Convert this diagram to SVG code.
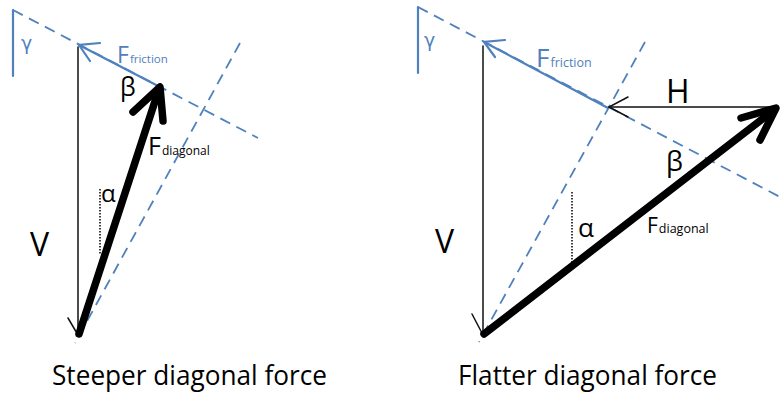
<svg xmlns="http://www.w3.org/2000/svg" width="781" height="394" viewBox="0 0 781 394">
<style>
text{font-family:"Open Sans","Liberation Sans",sans-serif}
.g{font-family:"DejaVu Sans",sans-serif}
.dash{stroke:#4f81bd;stroke-width:1.8;stroke-dasharray:11 7;fill:none}
.blue{stroke:#4f81bd;stroke-width:2.2;fill:none;stroke-linecap:round}
.thin{stroke:#111;stroke-width:1.5;fill:none;stroke-linecap:round}
.thick{stroke:#000;stroke-width:7.5;fill:none;stroke-linecap:round;stroke-linejoin:round}
.dot{stroke:#000;stroke-width:1.5;stroke-dasharray:1.5 1.5;fill:none}
.bt{fill:#4f81bd}
.k{fill:#000}
</style>
<rect width="781" height="394" fill="#fff"/>
<g id="connectors">
<line class="dash" x1="13" y1="10" x2="258" y2="138"/>
<line class="dash" x1="240" y1="43" x2="75" y2="343"/>
<line class="blue" x1="13" y1="10" x2="13" y2="76"/>
<line class="blue" x1="160" y1="87" x2="79" y2="45"/>
<polyline class="blue" points="100,43 79,45 90,61"/>
<line class="thin" x1="78" y1="47" x2="78" y2="334"/>
<polyline class="thin" points="68,318 78,335"/>
<line class="dot" x1="100" y1="189" x2="100" y2="255"/>
<line class="thick" x1="79" y1="334" x2="159" y2="89"/>
<polyline class="thick" points="133,112 160,87 163,121"/>
<line class="dash" x1="418" y1="7" x2="780" y2="197"/>
<line class="dash" x1="645" y1="42" x2="479" y2="342"/>
<line class="blue" x1="418" y1="7" x2="418" y2="73"/>
<line class="blue" x1="608" y1="108" x2="484" y2="42"/>
<polyline class="blue" points="505,40 484,42 495,57"/>
<line class="thin" x1="483" y1="46" x2="483" y2="334"/>
<polyline class="thin" points="472,314 483,335"/>
<line class="thin" x1="777" y1="107" x2="609" y2="107"/>
<polyline class="thin" points="628,97 609,107 628,117"/>
<line class="dot" x1="572" y1="192" x2="572" y2="262"/>
<line class="thick" x1="484" y1="334" x2="774" y2="110"/>
<polyline class="thick" points="741,118 776,108 760,140"/>
</g>
<g id="left-labels">
<text x="21" y="50" font-size="19" class="bt g">γ</text>
<text x="117" y="63" font-size="23" class="bt">F<tspan font-size="11.5" dx="1">friction</tspan></text>
<text x="120" y="96" font-size="25" class="k">β</text>
<text x="148" y="155" font-size="25" class="k">F<tspan font-size="12" dx="1">diagonal</tspan></text>
<text x="101" y="202" font-size="24" class="k">α</text>
<text x="30" y="256" font-size="32" class="k">V</text>
<text x="52" y="385" font-size="27" class="k" textLength="275" lengthAdjust="spacingAndGlyphs">Steeper diagonal force</text>
</g>
<g id="right-labels">
<text x="424" y="47" font-size="19" class="bt g">γ</text>
<text x="536" y="67" font-size="26" class="bt">F<tspan font-size="12.5" dx="1">friction</tspan></text>
<text x="666" y="103" font-size="32" class="k">H</text>
<text x="666" y="171" font-size="27" class="k">β</text>
<text x="578" y="237" font-size="26" class="k">α</text>
<text x="647" y="233" font-size="21" class="k">F<tspan font-size="12.5" dx="1">diagonal</tspan></text>
<text x="435" y="253" font-size="32" class="k">V</text>
<text x="458" y="385" font-size="27" class="k" textLength="259" lengthAdjust="spacingAndGlyphs">Flatter diagonal force</text>
</g>
</svg>
